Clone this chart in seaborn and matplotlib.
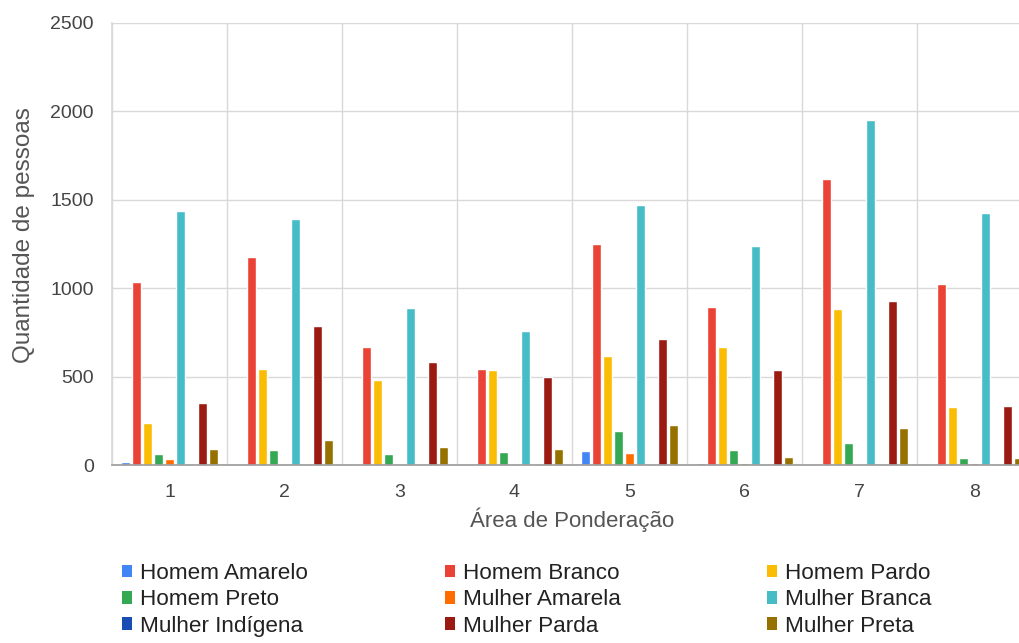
import numpy as np
import pandas as pd
import matplotlib
matplotlib.use("Agg")
import matplotlib.pyplot as plt
from matplotlib.patches import Patch
import seaborn as sns

# dados
areas = ["1", "2", "3", "4", "5", "6", "7", "8"]
grupos = ["Homem Amarelo", "Homem Branco", "Homem Pardo", "Homem Preto",
          "Mulher Amarela", "Mulher Branca", "Mulher Indígena", "Mulher Parda", "Mulher Preta"]
homem_amarelo = [18, 0, 8, 0, 82, 13, 0, 8]
homem_branco = [1037, 1175, 668, 545, 1252, 894, 1620, 1023]
homem_pardo = [240, 545, 481, 538, 617, 668, 881, 330]
homem_preto = [63, 86, 63, 74, 195, 86, 125, 38]
mulher_amarela = [35, 0, 0, 0, 70, 10, 8, 10]
mulher_branca = [1435, 1389, 890, 760, 1468, 1238, 1953, 1427]
mulher_indigena = [0, 0, 8, 0, 0, 0, 0, 0]
mulher_parda = [350, 788, 581, 500, 713, 538, 926, 332]
mulher_preta = [88, 141, 101, 88, 227, 44, 210, 42]
cores = ["#4285F4", "#EA4335", "#FBBC04", "#34A853", "#FF6D01",
         "#46BDC6", "#1A4DB3", "#9B1B12", "#967100"]

valores = [homem_amarelo, homem_branco, homem_pardo, homem_preto, mulher_amarela,
           mulher_branca, mulher_indigena, mulher_parda, mulher_preta]
linhas = []
for g, vals in zip(grupos, valores):
    for a, v in zip(areas, vals):
        linhas.append({"Área": a, "Grupo": g, "Qtd": v})
df = pd.DataFrame(linhas)

sns.set_theme(style="white")
plt.rcParams["font.family"] = ["Liberation Sans", "DejaVu Sans"]

fig = plt.figure(figsize=(10.2, 6.43), dpi=100)
ax = fig.add_axes([112 / 1020, 1 - 465 / 643, 920 / 1020, 442 / 643])

sns.barplot(data=df, x="Área", y="Qtd", hue="Grupo", hue_order=grupos,
            palette=cores, width=0.86, gap=0.2, ax=ax, legend=False,
            saturation=1, errorbar=None)

ax.set_xlim(-0.5, 7.5)
ax.set_ylim(0, 2500)
ax.set_yticks([0, 500, 1000, 1500, 2000, 2500])
ax.set_xticks(np.arange(-0.5, 8, 1), minor=True)
ax.grid(axis="y", color="#d9d9d9", lw=1)
ax.grid(axis="x", which="minor", color="#d9d9d9", lw=1)
ax.grid(axis="x", which="major", visible=False)
ax.set_axisbelow(True)
for s in ["top", "right"]:
    ax.spines[s].set_visible(False)
ax.spines["left"].set_color("#d9d9d9")
ax.spines["bottom"].set_color("#9e9e9e")
ax.tick_params(axis="both", which="both", length=0, labelsize=14, colors="#444444")
ax.tick_params(axis="y", pad=13)
ax.tick_params(axis="x", pad=14)
ax.set_xlabel("Área de Ponderação", fontsize=16, color="#555555", labelpad=4)
ax.set_ylabel("Quantidade de pessoas", fontsize=17.5, color="#555555")
ax.yaxis.set_label_coords(-77 / 920, 0.52)

# legenda em tres colunas
xs = [124 / 1020, 447 / 1020, 769 / 1020]
for c in range(3):
    hs = [Patch(facecolor=cores[c + 3 * r], edgecolor="none") for r in range(3)]
    ls = [grupos[c + 3 * r] for r in range(3)]
    fig.legend(hs, ls, loc="upper left", bbox_to_anchor=(xs[c] - 0.011, 1 - 554 / 643),
               frameon=False, fontsize=16.2, handlelength=0.46, handleheight=0.5,
               handletextpad=0.36, labelspacing=0.24, borderaxespad=0,
               labelcolor="#222222")

fig.savefig("out.png", dpi=100)
